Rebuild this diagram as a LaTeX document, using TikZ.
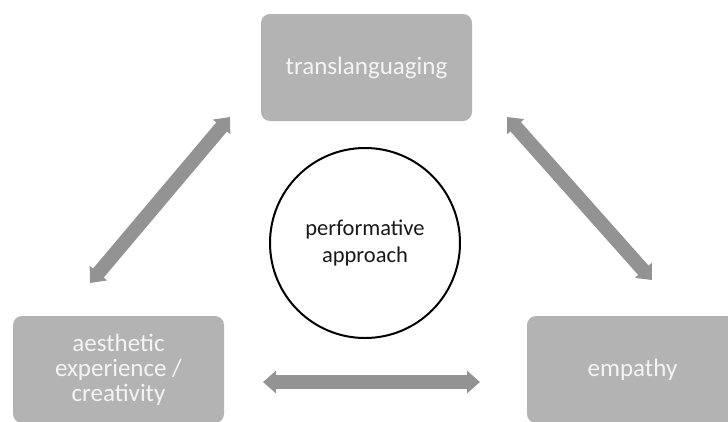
\documentclass[tikz,border=0pt]{standalone}
\usepackage{fontspec}
\setmainfont{Carlito}
\usetikzlibrary{arrows.meta}
\definecolor{boxgray}{HTML}{B3B3B3}
\definecolor{arrowgray}{HTML}{939393}
\definecolor{boxtext}{HTML}{F4F4F4}

\begin{document}
\begin{tikzpicture}[
  x=1pt, y=-1pt,
  every node/.style={inner sep=0pt, align=center},
  topic/.style={rectangle, rounded corners=9pt, fill=boxgray, text=boxtext,
    minimum width=211pt, minimum height=107pt, font=\fontsize{25}{25}\selectfont},
  core/.style={circle, draw, line width=2pt, minimum size=190pt, text=black!90,
    font=\fontsize{22.5}{27}\selectfont},
  link/.style={line width=14pt, draw=arrowgray,
    {Triangle[length=13pt,width=22pt]}-{Triangle[length=13pt,width=22pt]}}
]
\useasboundingbox (0,0) rectangle (728,421);
\clip (0,0) rectangle (728,421);

\node[topic] (trans) at (366.5,67.5) {translanguaging};
\node[topic] (aesth) at (118.5,369.5) {aesthetic\\experience /\\creativity};
\node[topic] (empa) at (632.5,369.5) {empathy};
\node[core] (perf) at (365,243) {performative\\approach};

\coordinate (la) at (90,283);
\coordinate (lb) at (230,117);
\coordinate (ra) at (507,117);
\coordinate (rb) at (652,280);
\coordinate (ba) at (263,382);
\coordinate (bb) at (480,382);

\draw[link] (la) -- (lb);
\draw[link] (ra) -- (rb);
\draw[link] (ba) -- (bb);
\end{tikzpicture}
\end{document}
